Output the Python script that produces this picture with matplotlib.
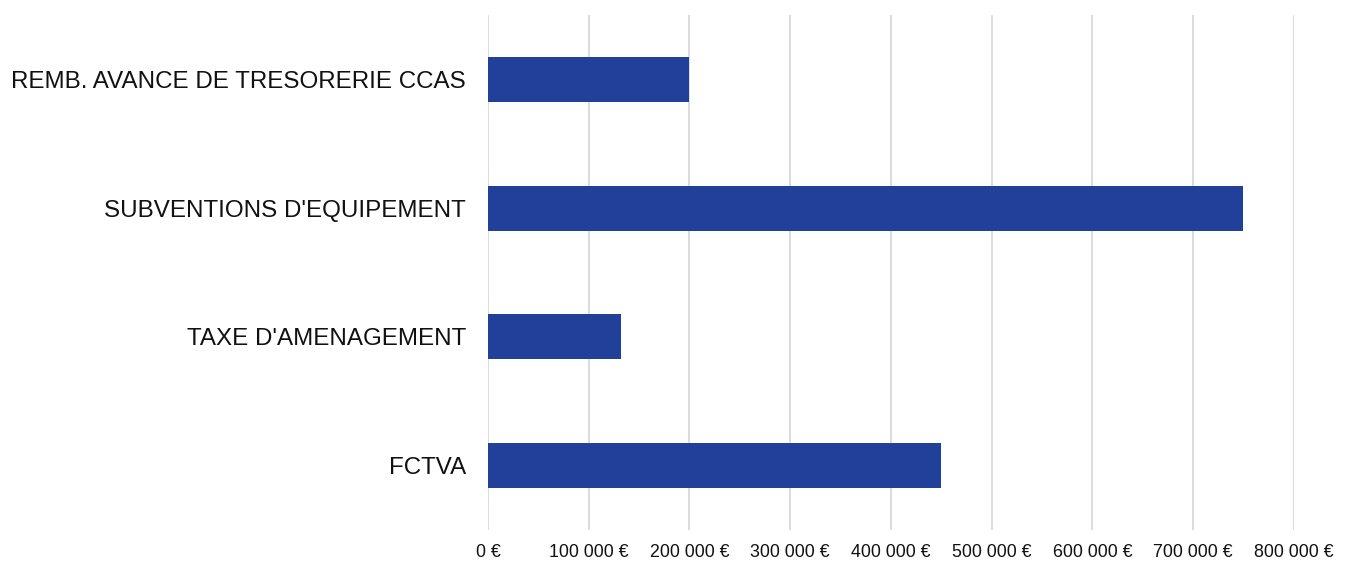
import matplotlib.pyplot as plt
from matplotlib.ticker import FuncFormatter

plt.rcParams['font.family'] = ['Liberation Sans', 'DejaVu Sans']

# Data
categories = ["FCTVA", "TAXE D'AMENAGEMENT", "SUBVENTIONS D'EQUIPEMENT",
              "REMB. AVANCE DE TRESORERIE CCAS"]
values = [450000, 132500, 749000, 200000]
ticks = [0, 100000, 200000, 300000, 400000, 500000, 600000, 700000, 800000]

fig = plt.figure(figsize=(13.53, 5.61), dpi=100)
ax = fig.add_axes([488 / 1353, 31 / 561, (1294 - 488) / 1353, (530 - 15) / 561])

ax.barh(range(len(categories)), values, height=0.35, color='#21409a', zorder=3)

ax.set_xlim(0, 800000)
ax.set_ylim(-0.5, 3.5)
ax.set_xticks(ticks)
ax.xaxis.set_major_formatter(FuncFormatter(lambda v, p: '{:,.0f} €'.format(v).replace(',', ' ')))
ax.set_yticks(range(len(categories)))
ax.set_yticklabels(categories, fontsize=17.4, color='#111111')
ax.tick_params(axis='x', labelsize=12.8, labelcolor='#111111', length=0, pad=10)
ax.tick_params(axis='y', length=0, pad=16)

ax.grid(axis='x', color='#d9d9d9', linewidth=1.3, zorder=0)
for s in ax.spines.values():
    s.set_visible(False)

fig.savefig('out.png', dpi=100)
